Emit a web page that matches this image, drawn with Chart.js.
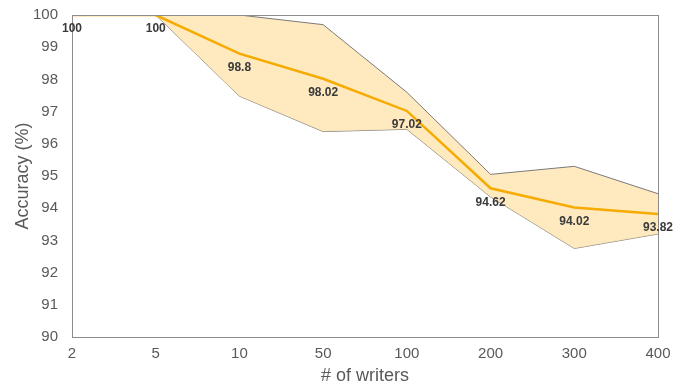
<!DOCTYPE html>
<html>
<head>
<meta charset="utf-8">
<script src="https://cdn.jsdelivr.net/npm/chart.js@4/dist/chart.umd.min.js"></script>
<style>
  html, body { margin: 0; padding: 0; background: #fff; }
  #wrap { width: 690px; height: 387px; }
</style>
</head>
<body>
<div id="wrap"><canvas id="myChart"></canvas></div>
<script>
const labels = ['2', '5', '10', '50', '100', '200', '300', '400'];
const meanAcc = [100, 100, 98.8, 98.02, 97.02, 94.62, 94.02, 93.82];
const upperAcc = [100, 100, 100, 99.7, 97.6, 95.05, 95.3, 94.45];
const lowerAcc = [100, 100, 97.48, 96.38, 96.45, 94.35, 92.75, 93.2];

// draws the value labels under the mean line and a box around the plot
const extras = {
  id: 'extras',
  afterDatasetsDraw(chart) {
    const ctx = chart.ctx;
    const area = chart.chartArea;
    ctx.save();
    ctx.strokeStyle = '#8c8c8c';
    ctx.lineWidth = 1;
    ctx.strokeRect(area.left + 0.5, area.top + 0.5, area.right - area.left, area.bottom - area.top);

    const meta = chart.getDatasetMeta(0);
    ctx.font = 'bold 12px "Liberation Sans", Arial, sans-serif';
    ctx.fillStyle = '#3a3a3a';
    ctx.textAlign = 'center';
    ctx.textBaseline = 'middle';
    meta.data.forEach((pt, i) => {
      ctx.fillText(String(meanAcc[i]), pt.x, pt.y + 14);
    });
    ctx.restore();
  }
};

const data = {
  labels: labels,
  datasets: [{
      label: 'Mean',
      data: meanAcc,
      borderColor: '#f5ab00',
      borderWidth: 2.5,
      pointRadius: 0,
      fill: false,
      tension: 0
    }, {
      label: 'Upper',
      data: upperAcc,
      borderColor: '#7a7a7a',
      borderWidth: 1,
      backgroundColor: 'rgba(255, 228, 175, 0.8)',
      pointRadius: 0,
      fill: '+1',
      tension: 0
    }, {
      label: 'Lower',
      data: lowerAcc,
      borderColor: '#7a7a7a',
      borderWidth: 1,
      pointRadius: 0,
      fill: false,
      tension: 0
    }]
};

const config = {
  type: 'line',
  data: data,
  options: {
    responsive: true,
    maintainAspectRatio: false,
    animation: false,
    layout: { padding: { top: 15, right: 32, left: 0, bottom: 0 } },
    plugins: {
      legend: { display: false },
      tooltip: { enabled: false }
    },
    scales: {
      x: {
        offset: false,
        grid: { display: false, drawTicks: false },
        border: { display: true, color: '#8c8c8c' },
        ticks: {
          color: '#595959',
          padding: 8,
          maxRotation: 0,
          font: { family: '"Liberation Sans", Arial, sans-serif', size: 15 }
        },
        title: {
          display: true,
          text: '# of writers',
          color: '#595959',
          padding: { top: 0, bottom: 0 },
          font: { family: '"Liberation Sans", Arial, sans-serif', size: 18 }
        },
        afterFit(scale) {
          scale.height = 50;
          scale.paddingLeft = 0;
          scale.paddingRight = 0;
        }
      },
      y: {
        min: 90,
        max: 100,
        grid: { display: false, drawTicks: false },
        border: { display: true, color: '#8c8c8c' },
        ticks: {
          stepSize: 1,
          color: '#595959',
          padding: 14,
          font: { family: '"Liberation Sans", Arial, sans-serif', size: 15 }
        },
        title: {
          display: true,
          text: 'Accuracy (%)',
          color: '#595959',
          padding: { top: 12, bottom: 0 },
          font: { family: '"Liberation Sans", Arial, sans-serif', size: 18 }
        },
        afterFit(scale) {
          scale.width = 72;
          scale.paddingTop = 0;
          scale.paddingBottom = 0;
        }
      }
    }
  },
  plugins: [extras]
};

const myChart = new Chart(document.getElementById('myChart'), config);
</script>
</body>
</html>
